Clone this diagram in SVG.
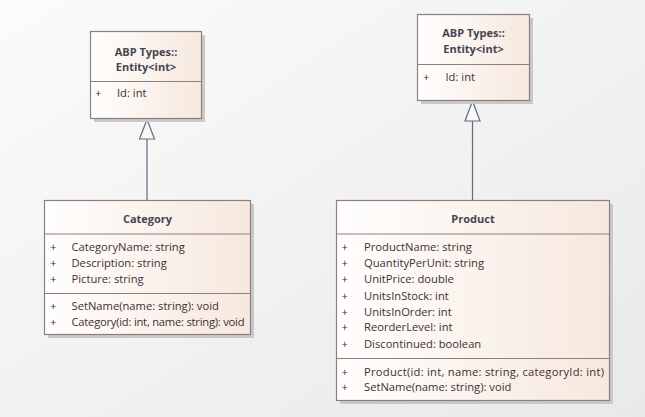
<svg xmlns="http://www.w3.org/2000/svg" width="645" height="417" viewBox="0 0 645 417">
<defs>
<linearGradient id="bg" x1="0" y1="0" x2="1" y2="1">
<stop offset="0" stop-color="#FBFBFB"/>
<stop offset="1" stop-color="#E9E9E9"/>
</linearGradient>
<linearGradient id="fill" x1="0" y1="0" x2="1" y2="0">
<stop offset="0" stop-color="#FFFEFD"/>
<stop offset="1" stop-color="#F6E8DE"/>
</linearGradient>
</defs>
<style>
.shadow{fill:#C9C9C9;}
.box{fill:url(#fill);stroke:#8F7E7E;stroke-width:1.2;}
.div{stroke:#8F7E7E;stroke-width:1.2;}
.title{font-family:"Open Sans","Noto Sans",sans-serif;font-size:11px;font-weight:bold;fill:#45454F;text-anchor:middle;}
.t{font-family:"Open Sans","Noto Sans",sans-serif;font-size:11.2px;fill:#3F2F30;}
.conn{stroke:#5F6A84;stroke-width:1.2;fill:none;}
.head{fill:#FCF8F5;stroke:#5F6A84;stroke-width:1.2;}
</style>
<rect width="645" height="417" fill="url(#bg)"/>
<g id="connectors">
<line class="conn" x1="147" y1="139" x2="147" y2="200.5"/>
<polygon class="head" points="147,119.5 139.5,139 154.5,139"/>
<line class="conn" x1="472.5" y1="121" x2="472.5" y2="200.5"/>
<polygon class="head" points="472.5,101 465,121 480,121"/>
</g>
<g id="entity-left">
<rect class="shadow" x="94" y="35" width="111" height="87"/>
<rect class="box" x="90.5" y="31.5" width="111" height="87"/>
<line class="div" x1="90.5" y1="81.5" x2="201.5" y2="81.5"/>
<text class="title" x="146" y="55.5">ABP Types::</text>
<text class="title" x="146" y="70.5">Entity&lt;int&gt;</text>
<text class="t" x="95" y="97">+</text>
<text class="t" x="117" y="97">Id: int</text>
</g>
<g id="entity-right">
<rect class="shadow" x="421" y="18" width="112" height="86"/>
<rect class="box" x="417.5" y="14.5" width="112" height="86"/>
<line class="div" x1="417.5" y1="64.5" x2="529.5" y2="64.5"/>
<text class="title" x="473.5" y="37">ABP Types::</text>
<text class="title" x="473.5" y="52.5">Entity&lt;int&gt;</text>
<text class="t" x="423" y="81">+</text>
<text class="t" x="445.5" y="81">Id: int</text>
</g>
<g id="category">
<rect class="shadow" x="48" y="204" width="206" height="134"/>
<rect class="box" x="44.5" y="200.5" width="206" height="134"/>
<line class="div" x1="44.5" y1="234" x2="250.5" y2="234"/>
<line class="div" x1="44.5" y1="293.5" x2="250.5" y2="293.5"/>
<text class="title" x="147.5" y="223">Category</text>
<text class="t" x="50" y="251">+</text>
<text class="t" x="71.5" y="251">CategoryName: string</text>
<text class="t" x="50" y="266.5">+</text>
<text class="t" x="71.5" y="266.5">Description: string</text>
<text class="t" x="50" y="283">+</text>
<text class="t" x="71.5" y="283">Picture: string</text>
<text class="t" x="50" y="310">+</text>
<text class="t" x="71.5" y="310">SetName(name: string): void</text>
<text class="t" x="50" y="326">+</text>
<text class="t" x="71.5" y="326" textLength="173" lengthAdjust="spacing">Category(id: int, name: string): void</text>
</g>
<g id="product">
<rect class="shadow" x="340" y="204" width="273" height="200"/>
<rect class="box" x="336.5" y="200.5" width="273" height="200"/>
<line class="div" x1="336.5" y1="234" x2="609.5" y2="234"/>
<line class="div" x1="336.5" y1="358.5" x2="609.5" y2="358.5"/>
<text class="title" x="473" y="223">Product</text>
<text class="t" x="341.5" y="251">+</text>
<text class="t" x="364" y="251">ProductName: string</text>
<text class="t" x="341.5" y="266.5">+</text>
<text class="t" x="364" y="266.5">QuantityPerUnit: string</text>
<text class="t" x="341.5" y="283">+</text>
<text class="t" x="364" y="283">UnitPrice: double</text>
<text class="t" x="341.5" y="300">+</text>
<text class="t" x="364" y="300">UnitsInStock: int</text>
<text class="t" x="341.5" y="316">+</text>
<text class="t" x="364" y="316">UnitsInOrder: int</text>
<text class="t" x="341.5" y="331">+</text>
<text class="t" x="364" y="331">ReorderLevel: int</text>
<text class="t" x="341.5" y="348">+</text>
<text class="t" x="364" y="348">Discontinued: boolean</text>
<text class="t" x="341.5" y="375.5">+</text>
<text class="t" x="364" y="375.5" textLength="240" lengthAdjust="spacing">Product(id: int, name: string, categoryId: int)</text>
<text class="t" x="341.5" y="390.5">+</text>
<text class="t" x="364" y="390.5">SetName(name: string): void</text>
</g>
</svg>
